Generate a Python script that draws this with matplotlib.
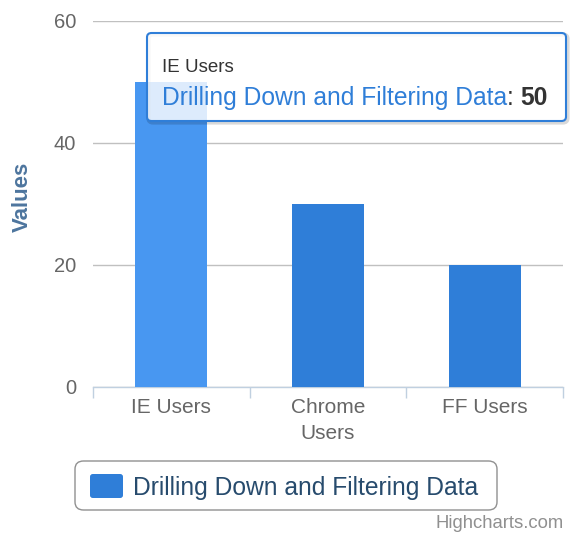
import matplotlib.pyplot as plt
from matplotlib.patches import FancyBboxPatch

categories = ["IE Users", "Chrome\nUsers", "FF Users"]
values = [50, 30, 20]
series_name = "Drilling Down and Filtering Data"
y_ticks = [0, 20, 40, 60]
hovered = 0  # IE bar is under the tooltip

W, H = 573, 539
BASE = "#2f7ed8"
HOVER = "#4897f1"

plt.rcParams['font.family'] = ['Liberation Sans', 'DejaVu Sans']


def px(x, y):
    # pixel coords (top-left origin) -> figure fraction
    return x / W, 1 - y / H


fig = plt.figure(figsize=(W / 100, H / 100), dpi=100)
left, top = px(93, 21)
right, bottom = px(563, 387)
ax = fig.add_axes([left, bottom, right - left, top - bottom])

colors = [HOVER if i == hovered else BASE for i in range(len(values))]
ax.bar(range(len(values)), values, width=0.46, color=colors, zorder=3)

ax.set_xlim(-0.5, len(values) - 0.5)
ax.set_ylim(0, 60)
ax.set_yticks(y_ticks)
ax.yaxis.grid(True, color="#c0c0c0", linewidth=1, zorder=0)
ax.tick_params(axis="y", length=0, pad=12, labelsize=14.5, labelcolor="#666666")

ax.set_xticks(range(len(values)))
ax.set_xticklabels(categories, fontsize=15, color="#666666", linespacing=1.45)
ax.set_xticks([i - 0.5 for i in range(len(values) + 1)], minor=True)
ax.tick_params(axis="x", which="major", length=0, pad=8)
ax.tick_params(axis="x", which="minor", length=8, width=1, color="#c0d0e0")

for side in ("top", "right", "left"):
    ax.spines[side].set_visible(False)
ax.spines["bottom"].set_color("#c0d0e0")
ax.spines["bottom"].set_linewidth(1)

fig.text(*px(22, 197), "Values", rotation=90, ha="center", va="center",
         fontsize=16, fontweight="bold", color="#4d759e")

# tooltip
tx, ty = px(147, 121)
tw, th = 419 / W, 88 / H
shadow = FancyBboxPatch((tx + 1.5 / W, ty - 1.5 / H), tw, th, boxstyle="round,pad=0,rounding_size=0.008",
                        transform=fig.transFigure, facecolor="none", alpha=0.15,
                        edgecolor="#000000", linewidth=3, zorder=9)
tip = FancyBboxPatch((tx, ty), tw, th, boxstyle="round,pad=0,rounding_size=0.008",
                     transform=fig.transFigure, facecolor=(1, 1, 1, 0.82),
                     edgecolor=BASE, linewidth=1.5, zorder=10)
fig.patches.extend([shadow, tip])
fig.text(*px(162, 68), categories[hovered].replace("\n", " "), ha="left", va="center",
         fontsize=13.5, color="#333333", zorder=11)
main = fig.text(*px(162, 98), series_name, ha="left", va="center",
                fontsize=17.7, color=BASE, zorder=11)
renderer = fig.canvas.get_renderer()
ext = main.get_window_extent(renderer)
colon = fig.text(ext.x1 / W, px(0, 98)[1], ": ", ha="left", va="center",
                 fontsize=17.7, color="#333333", zorder=11)
ext2 = colon.get_window_extent(renderer)
fig.text(ext2.x1 / W, px(0, 98)[1], str(values[hovered]), ha="left", va="center",
         fontsize=17.7, fontweight="bold", color="#333333", zorder=11)

# legend
lx, ly = px(75, 510)
legend_box = FancyBboxPatch((lx, ly), 422 / W, 49 / H, boxstyle="round,pad=0,rounding_size=0.015",
                            transform=fig.transFigure, facecolor="white",
                            edgecolor="#909090", linewidth=1)
sx, sy = px(90, 498)
symbol = FancyBboxPatch((sx, sy), 33 / W, 24 / H, boxstyle="round,pad=0,rounding_size=0.005",
                        transform=fig.transFigure, facecolor=BASE, edgecolor="none")
fig.patches.extend([legend_box, symbol])
fig.text(*px(133, 488), series_name, ha="left", va="center", fontsize=17.7, color="#274b6d")

fig.text(*px(564, 524), "Highcharts.com", ha="right", va="center", fontsize=13.3, color="#909090")

fig.savefig("out.png", dpi=100)
